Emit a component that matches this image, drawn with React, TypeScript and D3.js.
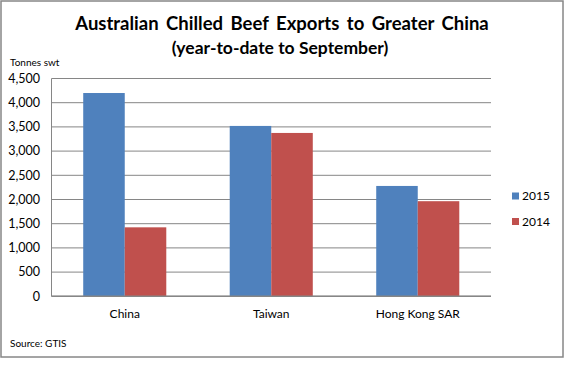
import React from "react";
import * as d3 from "d3";

const categories = ["China", "Taiwan", "Hong Kong SAR"];
const seriesNames = ["2015", "2014"];
const values2015 = [4200, 3520, 2280];
const values2014 = [1425, 3375, 1965];
const yTicks = [0, 500, 1000, 1500, 2000, 2500, 3000, 3500, 4000, 4500];
const colors = ["#4F81BD", "#C0504D"];

const W = 580;
const H = 378;
const FONT = "Lato, 'Open Sans', sans-serif";

export default function App() {
  const plotLeft = 51.5;
  const plotRight = 491;
  const plotTop = 78.5;
  const plotBottom = 296.3;

  const step = (plotRight - plotLeft) / categories.length;
  const groupW = step * 0.567;
  const xc = d3.scaleBand<string>().domain(categories).range([plotLeft, plotRight]).padding(0);
  const inner = d3.scaleBand<string>().domain(seriesNames).range([0, groupW]).padding(0);
  const y = d3.scaleLinear().domain([0, 4500]).range([plotBottom, plotTop]);
  const fmt = d3.format(",");
  const series = [values2015, values2014];

  return (
    <svg width={W} height={H} style={{ position: "absolute", left: 0, top: 0, background: "#fff" }} fontFamily={FONT}>
      <rect x={0} y={0} width={W} height={H} fill="#fff" />
      <rect x={1} y={1} width={562} height={356} fill="#fff" stroke="#878787" strokeWidth={1.5} />
      <text x={282} y={30} textAnchor="middle" fontSize={18.5} fontWeight="bold" fill="#000" wordSpacing={3}>
        Australian Chilled Beef Exports to Greater China
      </text>
      <text x={280} y={54} textAnchor="middle" fontSize={17.5} fontWeight="bold" fill="#000">
        (year-to-date to September)
      </text>
      <text x={10} y={66} fontSize={10} fill="#000">Tonnes swt</text>
      {yTicks.map((t) => (
        <g key={t}>
          <line x1={plotLeft} x2={plotRight} y1={y(t)} y2={y(t)} stroke="#868686" strokeWidth={1} />
          <text x={40} y={y(t)} dy="0.35em" textAnchor="end" fontSize={12.5} fill="#000">{fmt(t)}</text>
        </g>
      ))}
      <line x1={plotLeft} x2={plotLeft} y1={plotTop} y2={plotBottom} stroke="#868686" strokeWidth={1} />
      {categories.map((c, i) => {
        const gx = (xc(c) as number) + (step - groupW) / 2;
        return (
          <g key={c}>
            {seriesNames.map((s, j) => (
              <rect
                key={s}
                x={gx + (inner(s) as number)}
                y={y(series[j][i])}
                width={inner.bandwidth()}
                height={plotBottom - y(series[j][i])}
                fill={colors[j]}
              />
            ))}
            <text x={(xc(c) as number) + step / 2} y={314} dy="0.35em" textAnchor="middle" fontSize={12} fill="#000">{c}</text>
          </g>
        );
      })}
      <line x1={plotLeft} x2={plotRight} y1={plotBottom} y2={plotBottom} stroke="#868686" strokeWidth={1.5} />
      {seriesNames.map((s, j) => (
        <g key={s}>
          <rect x={512} y={192.5 + j * 25.5} width={7} height={7} fill={colors[j]} />
          <text x={522} y={196 + j * 25.5} dy="0.35em" fontSize={12} fill="#000">{s}</text>
        </g>
      ))}
      <text x={10} y={343} dy="0.35em" fontSize={10} fill="#000">Source: GTIS</text>
    </svg>
  );
}
